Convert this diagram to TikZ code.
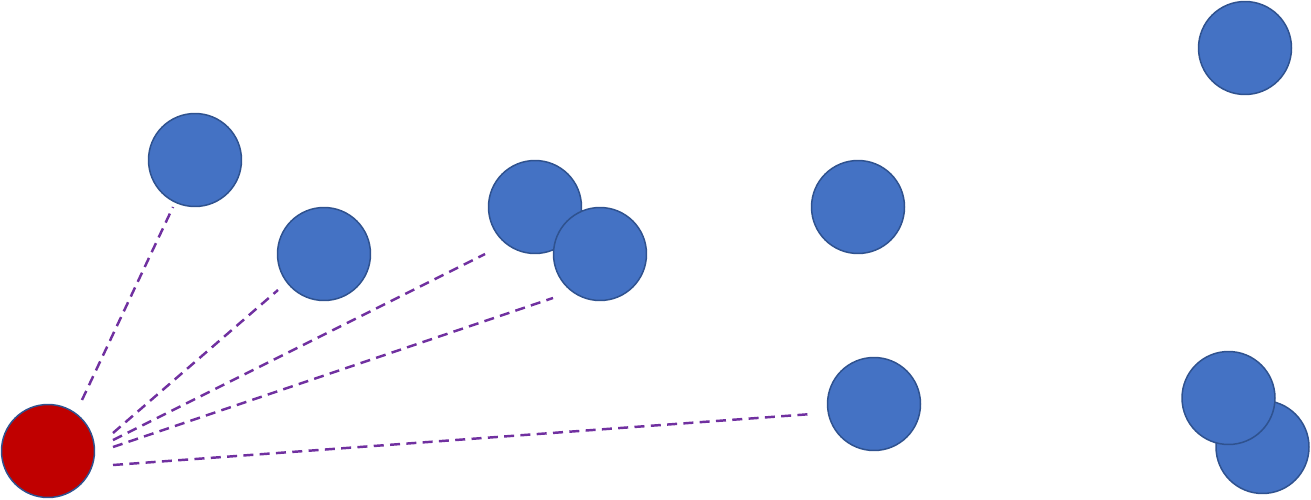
\documentclass[tikz,border=0pt]{standalone}
\definecolor{ballblue}{HTML}{4472C4}
\definecolor{balledge}{HTML}{2F528F}
\definecolor{ballred}{HTML}{C00000}
\definecolor{linkpurple}{HTML}{7030A0}
\begin{document}
\begin{tikzpicture}[x=0.02cm,y=-0.02cm,
  ball/.style={circle,draw=balledge,line width=0.85pt,fill=ballblue,minimum size=1.86cm,inner sep=0pt},
  redball/.style={ball,fill=ballred},
  link/.style={draw=linkpurple,line width=1.4pt,dash pattern=on 5.7pt off 3.6pt}]
\useasboundingbox (0,0) rectangle (1311,500);
\node[redball] (r) at (48,451) {};
\node[ball] (b1) at (195,160) {};
\node[ball] (b2) at (324,254) {};
\node[ball] (b3) at (535,207) {};
\node[ball] (b4) at (600,254) {};
\node[ball] (b5) at (858,207) {};
\node[ball] (b6) at (874,404) {};
\node[ball] (b7) at (1245,48) {};
\node[ball] (b8) at (1262.5,447) {};
\node[ball] (b9) at (1228.5,398) {};
\coordinate (s1) at (82,400);
\coordinate (e1) at (173,207);
\coordinate (s2) at (113,433);
\coordinate (e2) at (278,290);
\coordinate (s3) at (113,440);
\coordinate (e3) at (485,254);
\coordinate (s4) at (113,447);
\coordinate (e4) at (553,298);
\coordinate (s5) at (113,465);
\coordinate (e5) at (812,414);
\draw[link] (s1) -- (e1);
\draw[link] (s2) -- (e2);
\draw[link] (s3) -- (e3);
\draw[link] (s4) -- (e4);
\draw[link] (s5) -- (e5);
\end{tikzpicture}
\end{document}
